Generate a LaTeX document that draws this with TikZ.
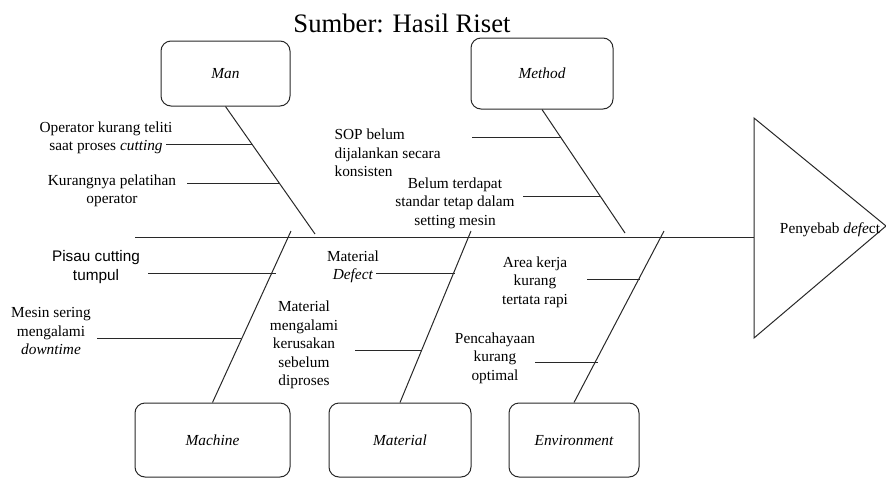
\documentclass[tikz,border=0pt]{standalone}
\usepackage{fontspec}
\setmainfont{Liberation Serif}[ItalicFont={Liberation Serif Italic}]
\newfontfamily\arialfont{Liberation Sans}
\usepackage{xcolor}
\usepackage{tikz}
\usetikzlibrary{positioning,calc}
\definecolor{boneline}{RGB}{40,40,40}
\tikzset{
    catbox/.style={rectangle, draw=boneline, rounded corners=7.5pt, line width=0.75pt, font=\itshape},
    cause/.style={align=center, inner sep=1pt},
    bone/.style={draw=boneline, line width=0.75pt},
    twig/.style={draw=boneline, line width=0.75pt}
}

\begin{document}
\fontsize{11.5}{13.8}\selectfont
\begin{tikzpicture}[x=0.75pt, y=-0.75pt]
    \useasboundingbox (0,0) rectangle (886,479);

    % Title
    \node [anchor=base, font=\fontsize{20}{23}\selectfont] (title) at (402,32) {Sumber: Hasil Riset};

    % Head of the fish
    \coordinate (headtop) at (754,118);
    \coordinate (headbot) at (754,338);
    \coordinate (apex) at (886,226);
    \path [bone] (headtop) -- (apex) -- (headbot) -- cycle;
    \node (effect) at (830,230) {Penyebab \textit{defe}ct};

    % Spine
    \coordinate (tail) at (135,237);
    \path [bone] (tail) -- (tail -| headtop);

    % Category boxes
    \node [catbox, minimum width=96.75pt, minimum height=48.75pt] (man) at (225.5,73.5) {Man};
    \node [catbox, minimum width=106.5pt, minimum height=53.25pt] (method) at (542,73.5) {Method};
    \node [catbox, minimum width=116.25pt, minimum height=55.5pt] (machine) at (212.5,440) {Machine};
    \node [catbox, minimum width=106.5pt, minimum height=55.5pt] (material) at (400,440) {Material};
    \node [catbox, minimum width=97.5pt, minimum height=55.5pt] (environment) at (574,440) {Environment};

    % Main bones
    \coordinate (man-end) at (315,234);
    \coordinate (method-end) at (625,233);
    \coordinate (machine-end) at (291,231);
    \coordinate (material-end) at (471,231);
    \coordinate (environment-end) at (664,231);
    \path [bone] (man.south) -- (man-end);
    \path [bone] (method.south) -- (method-end);
    \path [bone] (machine.north) -- (machine-end);
    \path [bone] (material.north) -- (material-end);
    \path [bone] (environment.north) -- (environment-end);

    % Causes: Man
    \node [cause] (man-c1) at (106,138) {Operator kurang teliti\\saat proses \textit{cutting}};
    \node [cause] (man-c2) at (112,191) {Kurangnya pelatihan\\operator};
    \coordinate (man-a1) at (166,144);
    \coordinate (man-b1) at (252,144);
    \coordinate (man-a2) at (187,183);
    \coordinate (man-b2) at (280,183);
    \path [twig] (man-a1) -- (man-b1);
    \path [twig] (man-a2) -- (man-b2);

    % Causes: Method
    \node [cause, align=left, anchor=west] (method-c1) at (333,153) {SOP belum\\dijalankan secara\\konsisten};
    \node [cause] (method-c2) at (455,203) {Belum terdapat\\standar tetap dalam\\setting mesin};
    \coordinate (method-a1) at (472,137);
    \coordinate (method-b1) at (561,137);
    \coordinate (method-a2) at (523,196);
    \coordinate (method-b2) at (600,196);
    \path [twig] (method-a1) -- (method-b1);
    \path [twig] (method-a2) -- (method-b2);

    % Causes: Machine
    \node [cause, font=\arialfont] (machine-c1) at (96,267) {Pisau cutting\\tumpul};
    \node [cause] (machine-c2) at (51,331) {Mesin sering\\mengalami\\\textit{downtime}};
    \coordinate (machine-a1) at (148,273);
    \coordinate (machine-b1) at (276,273);
    \coordinate (machine-a2) at (97,338);
    \coordinate (machine-b2) at (241,338);
    \path [twig] (machine-a1) -- (machine-b1);
    \path [twig] (machine-a2) -- (machine-b2);

    % Causes: Material
    \node [cause] (material-c1) at (353,267) {Material\\\textit{Defect}};
    \node [cause] (material-c2) at (304,345) {Material\\mengalami\\kerusakan\\sebelum\\diproses};
    \coordinate (material-a1) at (376,273);
    \coordinate (material-b1) at (455,273);
    \coordinate (material-a2) at (355,350);
    \coordinate (material-b2) at (422,350);
    \path [twig] (material-a1) -- (material-b1);
    \path [twig] (material-a2) -- (material-b2);

    % Causes: Environment
    \node [cause] (environment-c1) at (535,282) {Area kerja\\kurang\\tertata rapi};
    \node [cause] (environment-c2) at (495,358) {Pencahayaan\\kurang\\optimal};
    \coordinate (environment-a1) at (587,279);
    \coordinate (environment-b1) at (640,279);
    \coordinate (environment-a2) at (535,362);
    \coordinate (environment-b2) at (598,362);
    \path [twig] (environment-a1) -- (environment-b1);
    \path [twig] (environment-a2) -- (environment-b2);
\end{tikzpicture}
\end{document}
